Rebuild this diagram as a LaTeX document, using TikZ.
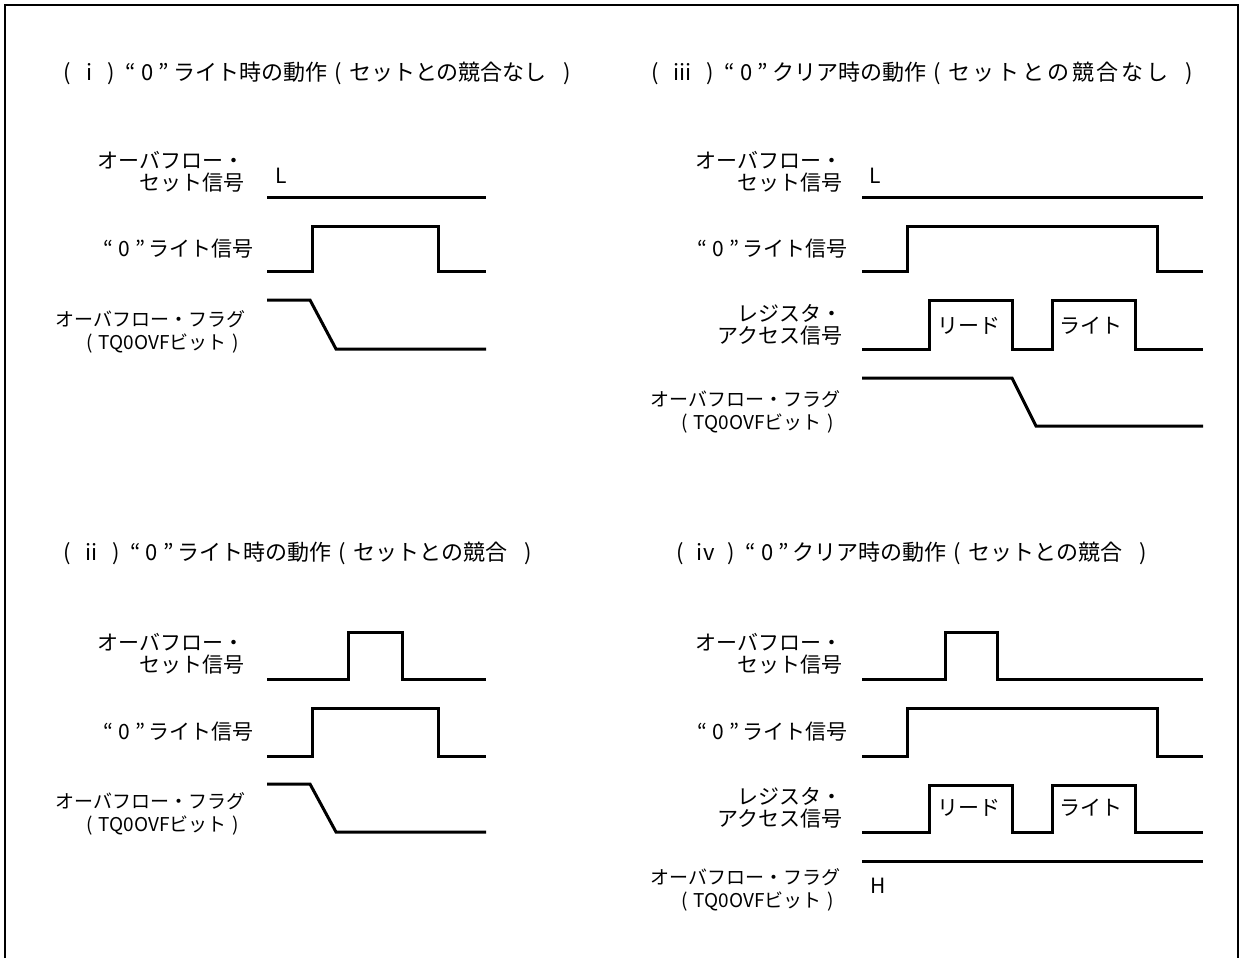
\documentclass[tikz,border=0pt]{standalone}
\usepackage{fontspec}
\setmainfont{Noto Sans CJK JP}
\newfontfamily\widefont[LetterSpace=13]{Noto Sans CJK JP}
\newcommand{\zch}[1]{\makebox[1em]{#1}}
\newcommand{\qz}{\makebox[.8em]{“}\makebox[.7em]{0}\makebox[.8em]{”}}
\newcommand{\rpar}{\makebox[1.9em]{)}}
\begin{document}
\begin{tikzpicture}[x=0.5pt, y=-0.5pt,
    wave/.style={line width=1.5pt},
    txt/.style={inner sep=0pt, font=\fontsize{10.5}{11}\selectfont},
    lbl/.style={txt, anchor=east, align=right},
    flg/.style={lbl, font=\fontsize{9.5}{11.5}\selectfont},
    ttl/.style={txt, anchor=west, font=\fontsize{11}{12}\selectfont}]
    \useasboundingbox (0,0) rectangle (1241,958);
    \draw[line width=1pt] (5,958) -- (5,5) -- (1238,5) -- (1238,958);

    % (i)
    \node[ttl] (ti) at (56,73) {\zch{(}\zch{i}\zch{)}\qz ライト時の動作\zch{(}セットとの競合なし\rpar};
    \node[lbl] (setA) at (245,172) {オーバフロー・\\セット信号};
    \node[txt] (lowA) at (281,176) {L};
    \draw[wave] (267,197) -- (486,197);
    \node[lbl] (wrA) at (254,249) {\qz ライト信号};
    \draw[wave] (267,271) -- (312,271) -- (312,226) -- (438,226) -- (438,271) -- (486,271);
    \node[flg] (flagA) at (246,332) {オーバフロー・フラグ\\\zch{(}TQ0OVFビット\zch{)}};
    \draw[wave] (267,300) -- (310,300) -- (336,349) -- (486,349);

    % (iii)
    \node[ttl] (tiii) at (644,73) {\zch{(}\makebox[1.5em]{iii}\zch{)}\qz クリア時の動作\zch{(}{\widefont セットとの競合なし}\rpar};
    \node[lbl] (setC) at (843,172) {オーバフロー・\\セット信号};
    \node[txt] (lowC) at (875,176) {L};
    \draw[wave] (862,197) -- (1203,197);
    \node[lbl] (wrC) at (848,249) {\qz ライト信号};
    \draw[wave] (862,271) -- (907,271) -- (907,226) -- (1157,226) -- (1157,271) -- (1203,271);
    \node[lbl] (regC) at (843,325) {レジスタ・\\アクセス信号};
    \draw[wave] (862,349) -- (929,349) -- (929,300) -- (1012,300) -- (1012,349)
        -- (1052,349) -- (1052,300) -- (1135,300) -- (1135,349) -- (1203,349);
    \node[txt] (rdC) at (969,326) {リード};
    \node[txt] (wtC) at (1091,326) {ライト};
    \node[flg] (flagC) at (841,412) {オーバフロー・フラグ\\\zch{(}TQ0OVFビット\zch{)}};
    \draw[wave] (862,378) -- (1012,378) -- (1036,426) -- (1203,426);

    % (ii)
    \node[ttl] (tii) at (56,553) {\zch{(}\makebox[1.2em]{ii}\zch{)}\qz ライト時の動作\zch{(}セットとの競合\rpar};
    \node[lbl] (setB) at (245,654) {オーバフロー・\\セット信号};
    \draw[wave] (267,679) -- (348,679) -- (348,632) -- (402,632) -- (402,679) -- (486,679);
    \node[lbl] (wrB) at (254,732) {\qz ライト信号};
    \draw[wave] (267,756) -- (312,756) -- (312,708) -- (438,708) -- (438,756) -- (486,756);
    \node[flg] (flagB) at (246,814) {オーバフロー・フラグ\\\zch{(}TQ0OVFビット\zch{)}};
    \draw[wave] (267,784) -- (310,784) -- (336,832) -- (486,832);

    % (iv)
    \node[ttl] (tiv) at (669,553) {\zch{(}\makebox[1.3em]{iv}\zch{)}\qz クリア時の動作\zch{(}セットとの競合\rpar};
    \node[lbl] (setD) at (843,654) {オーバフロー・\\セット信号};
    \draw[wave] (862,679) -- (945,679) -- (945,632) -- (997,632) -- (997,679) -- (1203,679);
    \node[lbl] (wrD) at (848,732) {\qz ライト信号};
    \draw[wave] (862,756) -- (907,756) -- (907,708) -- (1157,708) -- (1157,756) -- (1203,756);
    \node[lbl] (regD) at (843,808) {レジスタ・\\アクセス信号};
    \draw[wave] (862,832) -- (929,832) -- (929,785) -- (1012,785) -- (1012,832)
        -- (1052,832) -- (1052,785) -- (1135,785) -- (1135,832) -- (1203,832);
    \node[txt] (rdD) at (969,808) {リード};
    \node[txt] (wtD) at (1091,808) {ライト};
    \node[flg] (flagD) at (841,890) {オーバフロー・フラグ\\\zch{(}TQ0OVFビット\zch{)}};
    \draw[wave] (862,861) -- (1203,861);
    \node[txt] (highD) at (878,886) {H};
\end{tikzpicture}
\end{document}
